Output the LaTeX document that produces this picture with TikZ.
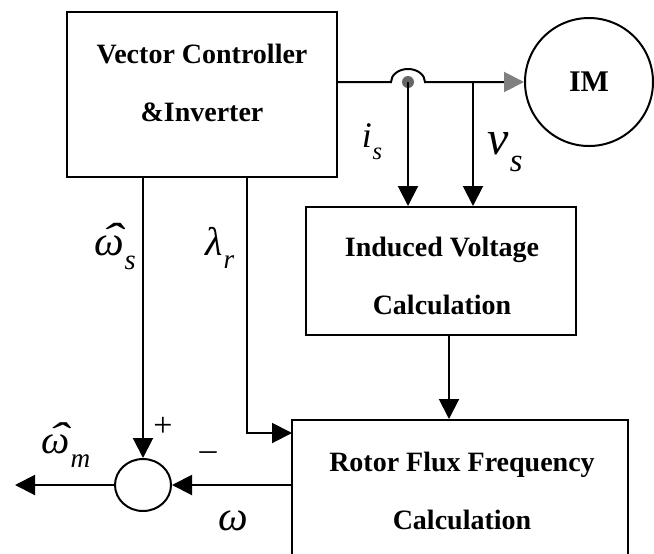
\documentclass[tikz,border=0pt]{standalone}
\usepackage{graphicx}
\usepackage{fontspec}
\setmainfont{Liberation Serif}
\usetikzlibrary{positioning,arrows.meta,calc,shapes.geometric}

% italic symbol with a lowered, smaller index
\newcommand{\symsub}[2]{\textit{#1}\kern0.02em\raisebox{-0.34em}{\scalebox{0.68}{\textit{#2}}}}
% italic symbol with a hat
\newcommand{\hatsym}[1]{{\ooalign{\textit{#1}\cr\hidewidth\kern0.14em\raisebox{0.08em}{\scalebox{1.6}[1]{\char"02C6}}\hidewidth\cr}}}

\begin{document}
\begin{tikzpicture}[
    x=0.5pt, y=-0.5pt,
    line width=1pt,
    box/.style={draw, line width=1pt, inner sep=0pt},
    txt/.style={align=center, font=\fontsize{14}{29}\selectfont\bfseries},
    lab/.style={inner sep=0pt, font=\fontsize{20}{24}\selectfont},
    arr/.style={-{Triangle[length=10pt,width=10pt]}}
]
\useasboundingbox (0,0) rectangle (654,553);
\clip (0,0) rectangle (654,553);

% blocks
\node[box, minimum width=135pt, minimum height=82.5pt] (vc) at (202,94.5) {};
\node[txt] (vctext) at (202,83) {Vector Controller\\\&Inverter};
\node[box, circle, minimum size=64pt, font=\fontsize{15}{18}\selectfont\bfseries] (im) at (589,82) {IM};
\node[box, minimum width=135pt, minimum height=64pt] (iv) at (441,271) {};
\node[txt] (ivtext) at (442,276) {Induced Voltage\\Calculation};
\node[box, minimum width=168pt, minimum height=80pt] (rf) at (460,500) {};
\node[txt] (rftext) at (462,491) {Rotor Flux Frequency\\Calculation};
\node[box, ellipse, minimum width=28pt, minimum height=26pt] (sum) at (143,485) {};

% taps and free ends
\coordinate (itap) at (408,82);
\coordinate (vtap) at (473,82);
\coordinate (lamtop) at (247,177);
\coordinate (lamin) at (292,433);
\coordinate (mout) at (15,485);

% signals
\draw[-{Triangle[length=10pt,width=10pt,color=gray]}] (vc.east |- itap) -- ($(itap)+(-17,0)$)
    arc[start angle=180, end angle=0, x radius=8.5pt, y radius=6.5pt] -- (im.west);
\fill[black!60] (itap) circle (3pt);
\draw[arr] (itap) -- (itap |- iv.north);
\draw[arr] (vtap) -- (vtap |- iv.north);
\draw[arr] ([xshift=4pt]iv.south) -- ([xshift=4pt]iv.south |- rf.north);
\draw[arr] (vc.south -| sum.north) -- (sum.north);
\draw[arr] (lamtop) |- (lamin);
\draw[arr] (rf.west |- sum.east) -- (sum.east);
\draw[arr] (sum.west) -- (mout);

% labels
\node[lab, font=\fontsize{18}{22}\selectfont] (islab) at (372,142) {\symsub{i}{s}};
\node[lab, font=\fontsize{24}{28}\selectfont] (vslab) at (505,152) {\symsub{v}{s}};
\node[lab, font=\fontsize{21}{25}\selectfont] (wslab) at (115,253) {\symsub{\hatsym{ω}}{s}};
\node[lab] (lrlab) at (220,248) {\symsub{λ}{r}};
\node[lab, font=\fontsize{20}{24}\selectfont] (wmlab) at (66,451) {\symsub{\hatsym{ω}}{m}};
\node[lab, font=\fontsize{21}{25}\selectfont] (wlab) at (233,521) {\textit{ω}};
\node[lab, font=\fontsize{17}{20}\selectfont] (plus) at (163,427) {+};
\node[lab, font=\fontsize{17}{20}\selectfont] (minus) at (208,456) {–};
\end{tikzpicture}
\end{document}
